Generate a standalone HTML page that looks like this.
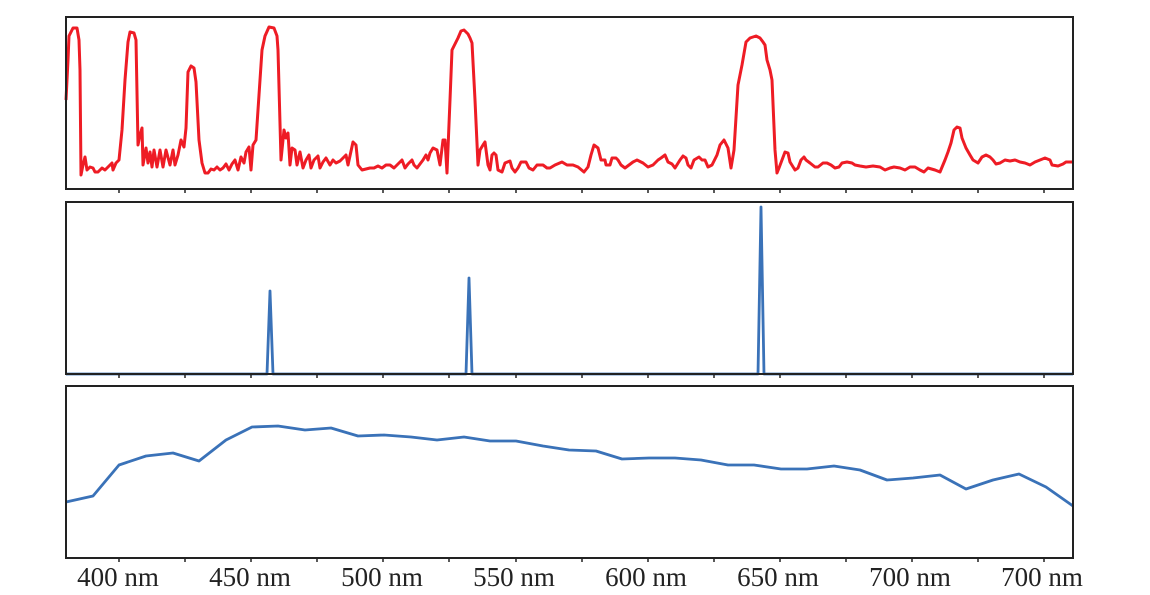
<!DOCTYPE html>
<html><head><meta charset="utf-8"><style>
html,body{margin:0;padding:0;background:#fff;width:1150px;height:595px;overflow:hidden}
text{font-family:"Liberation Serif",serif;font-size:27px;fill:#222}
</style></head><body>
<svg width="1150" height="595" viewBox="0 0 1150 595" xmlns="http://www.w3.org/2000/svg">
<polyline fill="none" stroke="#ee1c25" stroke-width="3" stroke-linejoin="round" points="66,100 68,60 69,36 73,28 77,28 79,40 80,70 81,175 83,165 85,157 87,170 90,167 93,168 95,172 98,172 102,168 105,170 108,167 112,163 113,170 116,163 119,160 122,130 125,80 128,42 130,32 134,33 136,40 138,145 140,135 142,128 143,165 146,148 148,163 150,152 152,167 154,150 157,167 160,150 163,167 166,150 170,165 173,150 175,165 178,155 181,140 184,147 186,128 188,72 191,66 194,68 196,82 199,140 202,163 205,173 208,173 211,169 214,170 217,167 220,170 223,168 226,164 229,170 232,164 235,160 238,170 241,157 244,163 246,152 249,147 251,170 253,145 256,140 262,50 265,36 269,27 274,28 277,36 278,50 281,160 284,130 286,138 288,133 290,165 292,148 295,150 297,165 300,152 303,168 306,160 309,155 311,168 314,160 318,156 320,168 323,162 326,158 330,165 333,160 336,163 340,161 343,158 346,155 348,165 353,142 356,145 358,165 362,170 366,169 370,168 374,168 378,166 382,168 386,165 390,165 394,168 398,164 402,160 405,168 408,164 412,160 414,165 417,168 420,164 423,160 426,155 428,160 430,153 433,148 437,150 440,165 443,140 445,140 447,173 450,100 452,50 458,38 461,31 464,30 468,34 470,38 472,43 475,100 478,165 480,150 483,145 485,142 488,165 490,170 492,155 494,153 496,155 498,170 502,172 505,163 510,161 512,168 515,172 518,168 521,162 526,162 529,168 533,170 537,165 543,165 547,168 550,168 555,165 562,162 567,165 573,165 578,167 584,172 588,167 591,155 594,145 598,148 601,160 605,160 606,165 610,165 612,158 616,158 618,160 621,165 625,168 629,165 633,162 637,160 643,163 648,167 653,165 658,160 661,158 665,155 668,162 672,164 675,168 680,160 683,156 686,158 688,165 691,168 694,160 699,157 702,160 705,160 708,167 712,165 717,155 720,145 724,140 728,148 731,168 734,150 738,85 742,65 746,42 750,38 756,36 760,38 763,42 765,45 767,60 770,70 772,80 775,150 777,173 779,168 782,160 785,152 788,153 790,162 795,170 798,168 801,160 804,157 806,160 810,163 815,167 818,167 823,163 827,163 831,165 835,168 839,167 842,163 847,162 852,163 855,165 860,166 866,167 873,166 880,167 885,170 890,168 894,167 900,168 905,170 910,167 915,167 920,170 924,172 928,168 935,170 940,172 945,160 948,152 951,143 954,130 957,127 960,128 962,138 966,148 970,155 973,160 978,163 982,157 986,155 990,157 993,160 996,164 1000,163 1005,160 1010,161 1015,160 1020,162 1025,163 1030,165 1035,162 1040,160 1045,158 1050,160 1052,165 1058,166 1063,164 1066,162 1072,162"/>
<polyline fill="none" stroke="#3a72b8" stroke-width="2.8" stroke-linejoin="round" points="66,374 267,374 270,291 273,374 466,374 469,278 472,374 758,374 761,207 764,374 1073,374"/>
<polyline fill="none" stroke="#3a72b8" stroke-width="2.8" stroke-linejoin="round" points="66,502 93,496 119,465 146,456 173,453 199,461 226,440 252,427 278,426 305,430 331,428 358,436 384,435 411,437 437,440 464,437 490,441 516,441 543,446 569,450 596,451 622,459 649,458 675,458 701,460 728,465 754,465 781,469 807,469 834,466 860,470 887,480 913,478 940,475 966,489 993,480 1019,474 1046,487 1073,506"/>
<g fill="none" stroke="#222" stroke-width="2">
<rect x="66" y="17" width="1007" height="172"/>
<rect x="66" y="202" width="1007" height="172"/>
<rect x="66" y="386" width="1007" height="172"/>
</g>
<g stroke="#222" stroke-width="1.5">
<path d="M119 189v4M185 189v4M251 189v4M317 189v4M383 189v4M449 189v4M516 189v4M582 189v4M648 189v4M714 189v4M780 189v4M846 189v4M912 189v4M978 189v4M1044 189v4"/>
<path d="M119 374v4M185 374v4M251 374v4M317 374v4M383 374v4M449 374v4M516 374v4M582 374v4M648 374v4M714 374v4M780 374v4M846 374v4M912 374v4M978 374v4M1044 374v4"/>
<path d="M119 558v4M185 558v4M251 558v4M317 558v4M383 558v4M449 558v4M516 558v4M582 558v4M648 558v4M714 558v4M780 558v4M846 558v4M912 558v4M978 558v4M1044 558v4"/>
</g>
<g text-anchor="middle">
<text x="118" y="586">400 nm</text>
<text x="250" y="586">450 nm</text>
<text x="382" y="586">500 nm</text>
<text x="514" y="586">550 nm</text>
<text x="646" y="586">600 nm</text>
<text x="778" y="586">650 nm</text>
<text x="910" y="586">700 nm</text>
<text x="1042" y="586">700 nm</text>
</g>
</svg>
</body></html>
